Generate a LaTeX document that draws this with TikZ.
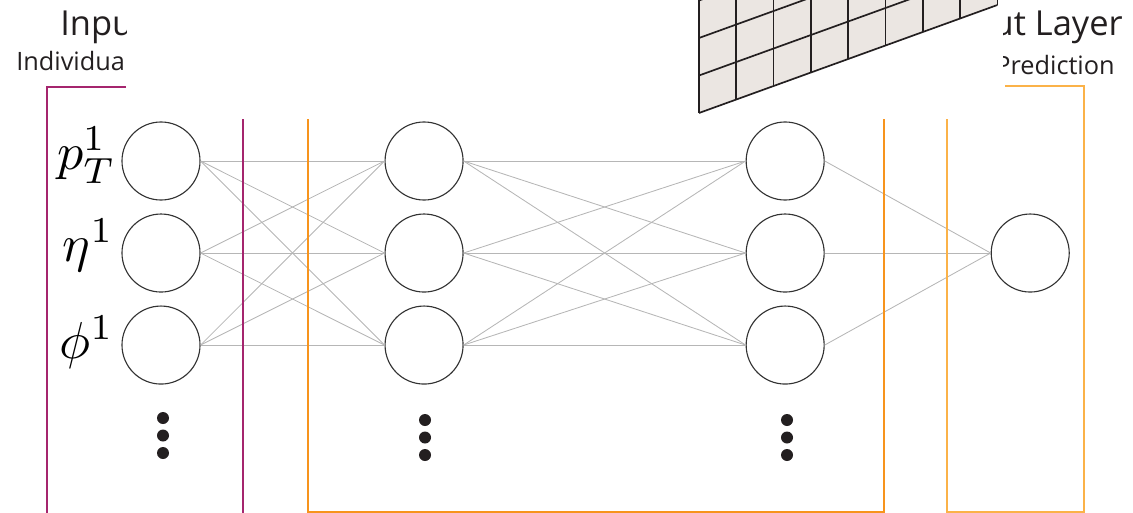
\documentclass[tikz,border=0pt]{standalone}
\usepackage[no-math]{fontspec}
\newfontfamily\headfont{Open Sans}
\usetikzlibrary{positioning}

\definecolor{inputcol}{RGB}{165,37,110}
\definecolor{hiddencol}{RGB}{247,148,29}
\definecolor{outputcol}{RGB}{251,178,72}
\definecolor{linkcol}{RGB}{182,182,182}
\definecolor{inkcol}{RGB}{35,31,32}
\definecolor{cellcol}{RGB}{235,230,226}

\tikzset{
  neuron/.style={draw=black!80, line width=0.8pt, circle, minimum size=1.95cm, inner sep=0pt},
  link/.style={draw=linkcol, line width=0.6pt},
  frame/.style={line width=1.5pt},
  varname/.style={anchor=east, inner sep=0pt, scale=3.7},
  title/.style={anchor=base west, inner sep=0pt, text=inkcol, font=\headfont\fontsize{24.5}{28}\selectfont},
  subtitle/.style={anchor=base west, inner sep=0pt, text=inkcol, font=\headfont\fontsize{18}{21}\selectfont},
}

\begin{document}
\begin{tikzpicture}[x=0.025cm, y=-0.025cm, on grid, node distance=2.3cm]
  \useasboundingbox (0,0) rectangle (1133,513);

  \node[neuron] (i1) at (161,161) {};
  \node[neuron, below=of i1] (i2) {};
  \node[neuron, below=of i2] (i3) {};
  \node[neuron, right=6.575cm of i1] (h1) {};
  \node[neuron, below=of h1] (h2) {};
  \node[neuron, below=of h2] (h3) {};
  \node[neuron, right=9.025cm of h1] (g1) {};
  \node[neuron, below=of g1] (g2) {};
  \node[neuron, below=of g2] (g3) {};
  \node[neuron, right=6.125cm of g2] (o1) {};

  \foreach \a in {1,2,3}
    \foreach \b in {1,2,3} {
      \draw[link] (i\a.east) -- (h\b.west);
      \draw[link] (h\a.east) -- (g\b.west);
    }
  \foreach \a in {1,2,3}
    \draw[link] (g\a.east) -- (o1.west);

  \node[varname] (lpt) at (117,155) {$p_T^1$};
  \node[varname] (leta) at (115,245) {$\eta^1$};
  \node[varname] (lphi) at (115,342) {$\phi^1$};

  \foreach \x/\y in {163/418, 425/420, 787/420}
    \foreach \k in {0,1,2}
      \fill[inkcol] (\x,\y+\k*17.5) circle[radius=0.15cm];

  \draw[frame, inputcol] (126,87) -- (47,87) -- (47,513);
  \draw[frame, inputcol] (243,119) -- (243,513);
  \draw[frame, hiddencol] (308,119) -- (308,512) -- (884,512) -- (884,119);
  \draw[frame, outputcol] (1005,86) -- (1084,86) -- (1084,512) -- (947,512) -- (947,119);

  \begin{scope}
    \clip (0,0) rectangle (1133,513);
    \fill[cellcol] (699,113) -- ++(298.4,-108) -- ++(0,-150) -- ++(-298.4,108) -- cycle;
    \foreach \c in {0,...,8}
      \draw[inkcol, line width=1.2pt] (699+\c*37.3,113-\c*13.5) -- ++(0,-150);
    \foreach \r in {0,...,4}
      \draw[inkcol, line width=1.2pt] (699,113-\r*37.5) -- ++(298.4,-108);
  \end{scope}

  \begin{scope}
    \clip (0,0) rectangle (126,119);
    \node[title] (intitle) at (60,35) {Inpu};
    \node[subtitle] (insub) at (16,70) {Individua};
  \end{scope}
  \begin{scope}
    \clip (1003,0) rectangle (1133,86);
    \node[title, anchor=base east] (outtitle) at (1123,35) {ut Layer};
    \node[subtitle, anchor=base east] (outsub) at (1115,74) {Prediction};
  \end{scope}
\end{tikzpicture}
\end{document}
